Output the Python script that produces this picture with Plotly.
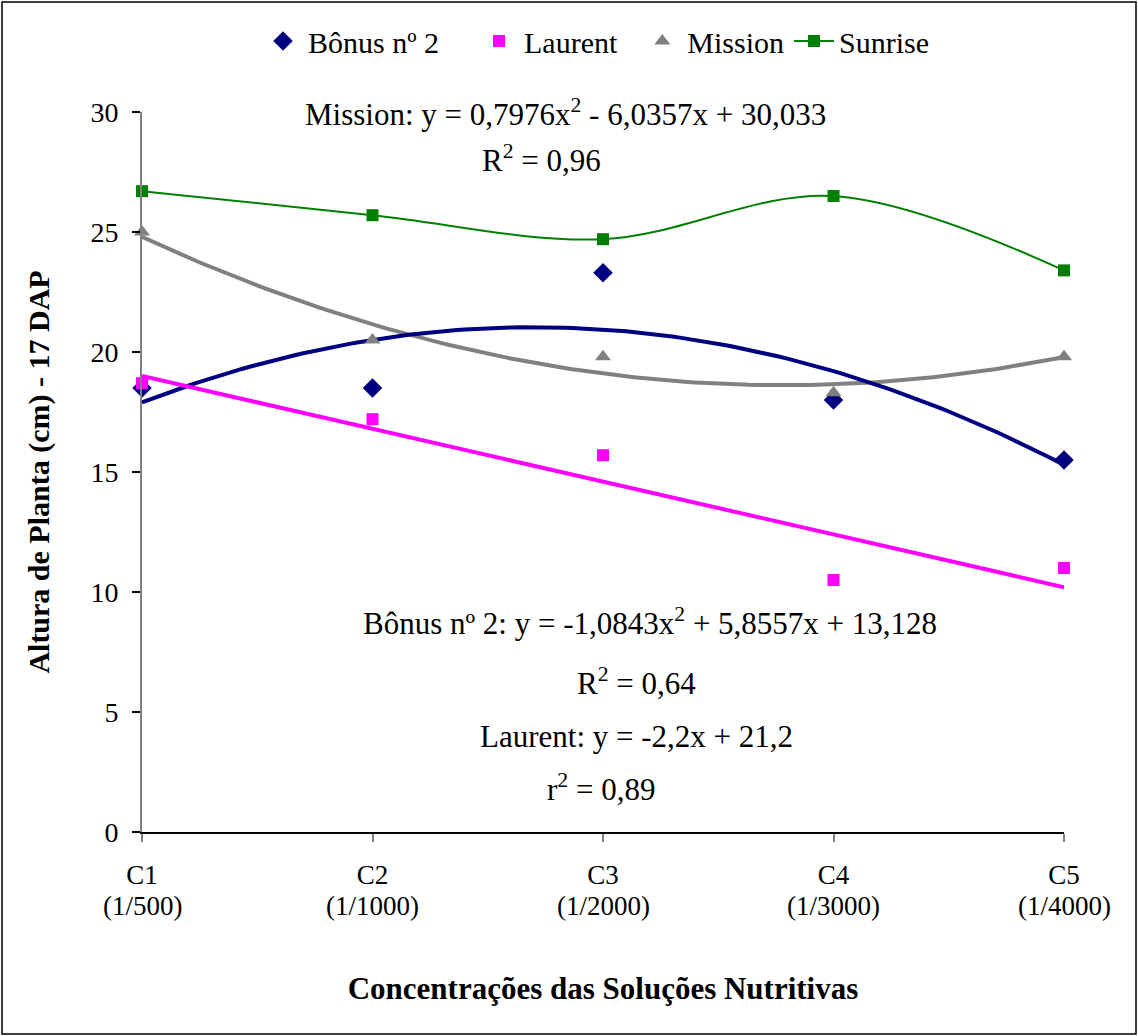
import numpy as np
import plotly.graph_objects as go

# ---- data ----
categories = ["C1", "C2", "C3", "C4", "C5"]
category_sub = ["(1/500)", "(1/1000)", "(1/2000)", "(1/3000)", "(1/4000)"]
x_pos = [1, 2, 3, 4, 5]

bonus = [18.5, 18.5, 23.3, 18.0, 15.5]
laurent = [18.7, 17.2, 15.7, 10.5, 11.0]
mission = [25.0, 20.5, 19.8, 18.3, 19.8]
sunrise = [26.7, 25.7, 24.7, 26.5, 23.4]

# trendline coefficients as displayed on the chart (highest power first)
bonus_coef = [-1.0843, 5.8557, 13.128]
mission_coef = [0.7976, -6.0357, 30.033]
laurent_coef = [-2.2, 21.2]

y_ticks = [0, 5, 10, 15, 20, 25, 30]

FONT = "Liberation Serif"
NAVY = "#000080"
MAGENTA = "#FF00FF"
GRAY = "#808080"
GREEN = "#008000"

xs = np.linspace(1, 5, 121)
SP = "\u00a0"

fig = go.Figure()

# trendlines
fig.add_trace(go.Scatter(x=xs, y=np.polyval(mission_coef, xs), mode="lines",
                         line=dict(color=GRAY, width=4), showlegend=False, hoverinfo="skip"))
fig.add_trace(go.Scatter(x=xs, y=np.polyval(bonus_coef, xs), mode="lines",
                         line=dict(color=NAVY, width=4), showlegend=False, hoverinfo="skip"))
fig.add_trace(go.Scatter(x=xs, y=np.polyval(laurent_coef, xs), mode="lines",
                         line=dict(color=MAGENTA, width=4), showlegend=False, hoverinfo="skip"))

# series
fig.add_trace(go.Scatter(x=x_pos, y=bonus, mode="markers", name="Bônus nº 2" + SP * 4,
                         marker=dict(symbol="diamond", color=NAVY, size=15), cliponaxis=False))
fig.add_trace(go.Scatter(x=x_pos, y=laurent, mode="markers", name="Laurent" + SP * 2,
                         marker=dict(symbol="square", color=MAGENTA, size=12), cliponaxis=False))
fig.add_trace(go.Scatter(x=x_pos, y=mission, mode="markers", name="Mission",
                         marker=dict(symbol="triangle-up", color=GRAY, size=14), cliponaxis=False))
fig.add_trace(go.Scatter(x=x_pos, y=sunrise, mode="lines+markers", name="Sunrise",
                         line=dict(color=GREEN, width=2, shape="spline", smoothing=1.0),
                         marker=dict(symbol="square", color=GREEN, size=12), cliponaxis=False))

W, H = 1138, 1036
L, R, T, B = 142, 74, 112, 204
pw, ph = W - L - R, H - T - B

def px_x(p):
    return (p - L) / pw

def px_y(p):
    return (H - B - p) / ph

ann_font = dict(family=FONT, size=31, color="black")
annotations = [
    dict(x=px_x(565), y=px_y(112), text="Mission: y = 0,7976x<sup>2</sup> - 6,0357x + 30,033"),
    dict(x=px_x(541), y=px_y(158), text="R<sup>2</sup> = 0,96"),
    dict(x=px_x(650), y=px_y(621), text="Bônus nº 2: y = -1,0843x<sup>2</sup> + 5,8557x + 13,128"),
    dict(x=px_x(636), y=px_y(681), text="R<sup>2</sup> = 0,64"),
    dict(x=px_x(636), y=px_y(736), text="Laurent: y = -2,2x + 21,2"),
    dict(x=px_x(601), y=px_y(787), text="r<sup>2</sup> = 0,89"),
]
for a in annotations:
    a.update(xref="paper", yref="paper", showarrow=False, font=ann_font,
             xanchor="center", yanchor="middle")

# second line of the category labels
for xv, s in zip(x_pos, category_sub):
    annotations.append(dict(x=xv, y=px_y(906), xref="x", yref="paper", text=s,
                            showarrow=False, xanchor="center", yanchor="middle",
                            font=dict(family=FONT, size=27, color="black")))

fig.update_layout(
    width=W, height=H,
    margin=dict(l=L, r=R, t=T, b=B),
    paper_bgcolor="white", plot_bgcolor="white",
    font=dict(family=FONT, size=27, color="black"),
    annotations=annotations,
    legend=dict(orientation="h", x=px_x(258), xanchor="left", y=px_y(41), yanchor="middle",
                font=dict(family=FONT, size=30), itemwidth=40, tracegroupgap=0),
    xaxis=dict(range=[1, 5], tickvals=x_pos, ticktext=categories,
               showline=True, linecolor="black", linewidth=1.5, ticks="outside",
               ticklen=8, tickcolor=GRAY, tickwidth=2, showgrid=False, zeroline=False,
               tickfont=dict(family=FONT, size=27), ticklabelstandoff=10,
               title=dict(text="<b>Concentrações das Soluções Nutritivas</b>",
                          font=dict(family=FONT, size=31), standoff=88)),
    yaxis=dict(range=[0, 30], tickvals=y_ticks, showline=True, linecolor=GRAY, linewidth=2,
               ticks="outside", ticklen=8, tickcolor="black", tickwidth=1.5,
               showgrid=False, zeroline=False, tickfont=dict(family=FONT, size=28),
               ticklabelstandoff=8,
               title=dict(text="<b>Altura de Planta (cm) - 17 DAP</b>",
                          font=dict(family=FONT, size=30), standoff=32)),
    shapes=[dict(type="rect", xref="paper", yref="paper",
                 x0=px_x(2), x1=px_x(W - 2), y0=px_y(H - 2), y1=px_y(2),
                 line=dict(color="black", width=1.5), layer="below")],
)

fig.write_html("out.html", config={"displayModeBar": False},
               post_script="document.body.style.margin='0px';")
